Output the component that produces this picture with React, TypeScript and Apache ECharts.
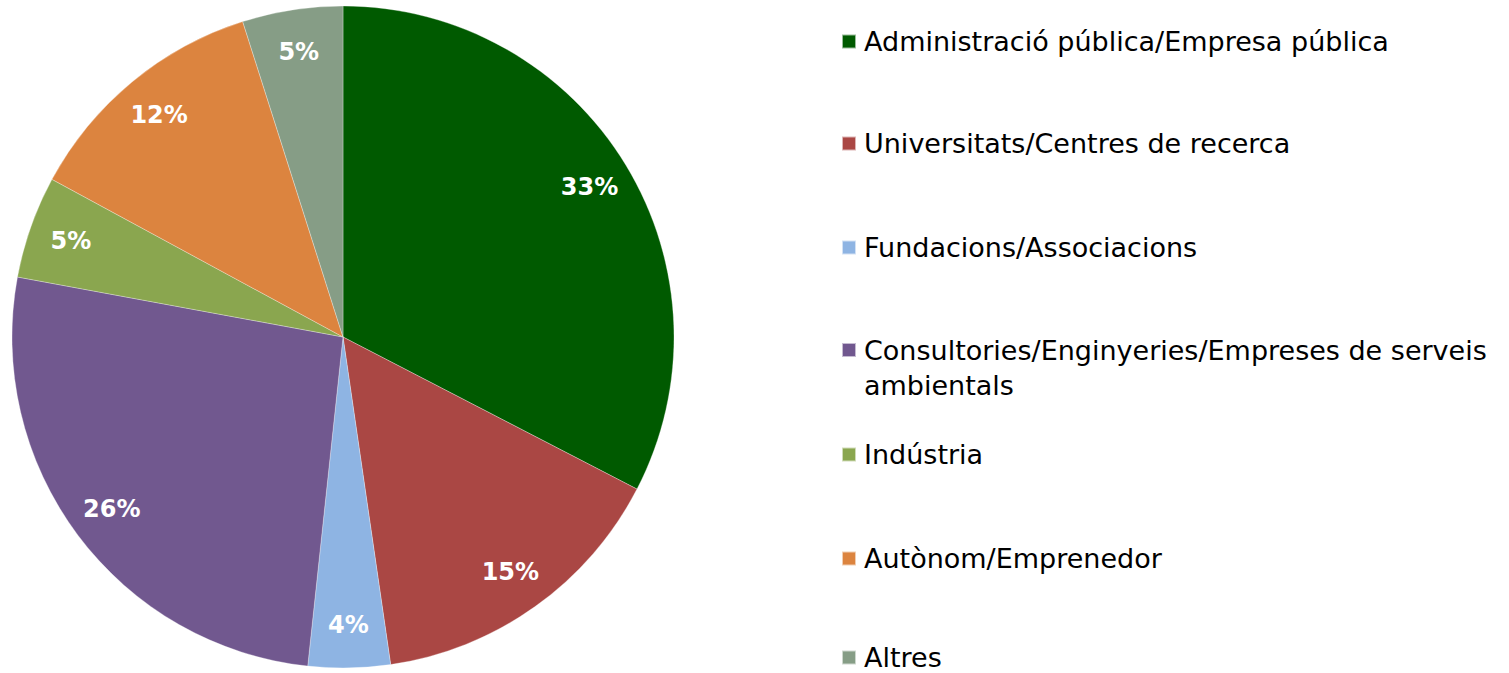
import React, { useEffect, useRef } from "react";
import * as echarts from "echarts";

const categories = [
  "Administració pública/Empresa pública",
  "Universitats/Centres de recerca",
  "Fundacions/Associacions",
  "Consultories/Enginyeries/Empreses de serveis ambientals",
  "Indústria",
  "Autònom/Emprenedor",
  "Altres",
];
const values = [32.6, 15.1, 4.0, 26.2, 5.0, 12.2, 4.9];
const colors = ["#005A00", "#AA4744", "#8EB4E3", "#71588F", "#8AA64F", "#DC843F", "#869D86"];
const legendCenters = [40, 142, 246, 350, 453, 557, 656];

const FONT = "'Century Gothic', 'DejaVu Sans', sans-serif";

export default function App() {
  const ref = useRef<HTMLDivElement>(null);
  useEffect(() => {
    if (!ref.current) return;
    const chart = echarts.init(ref.current, undefined, { renderer: "svg" });
    const cx = 343, cy = 337, r = 331;
    const data = categories.map((name, i) => ({ name, value: values[i], itemStyle: { color: colors[i] } }));
    const lh = 35;
    const legends = categories.map((name, i) => {
      const multi = i === 3;
      const lineH = multi ? lh : 24;
      const h = multi ? lh * 3 : lineH;
      return {
        data: [name],
        orient: "vertical",
        left: 841,
        top: legendCenters[i] - h / 2,
        icon: "rect",
        itemWidth: 14,
        itemHeight: 14,
        itemGap: 0,
        padding: 0,
        selectedMode: false,
        formatter: (n: string) =>
          multi ? "\u00a0\nConsultories/Enginyeries/Empreses de serveis\nambientals" : n,
        textStyle: { fontFamily: FONT, fontSize: 27, color: "#000", lineHeight: lineH, padding: [0, 0, 0, 3] },
      };
    });
    chart.setOption({
      animation: false,
      legend: legends,
      series: [
        {
          type: "pie",
          center: [cx, cy],
          radius: [0, r],
          startAngle: 90,
          clockwise: true,
          data,
          label: { show: false },
          labelLine: { show: false },
          itemStyle: { borderColor: "rgba(255,255,255,0.6)", borderWidth: 0.5 },
          emphasis: { disabled: true },
        },
        {
          type: "pie",
          center: [cx, cy],
          radius: [240, r],
          startAngle: 90,
          clockwise: true,
          silent: true,
          percentPrecision: 0,
          data: data.map((d) => ({ name: d.name, value: d.value, itemStyle: { color: "transparent" } })),
          label: {
            show: true,
            position: "inside",
            formatter: "{d}%",
            color: "#fff",
            fontFamily: FONT,
            fontWeight: "bold",
            fontSize: 24,
          },
          labelLine: { show: false },
          emphasis: { disabled: true },
          tooltip: { show: false },
        },
      ],
    });
    return () => chart.dispose();
  }, []);
  return <div ref={ref} style={{ position: "absolute", left: 0, top: 0, width: 1509, height: 673 }} />;
}
